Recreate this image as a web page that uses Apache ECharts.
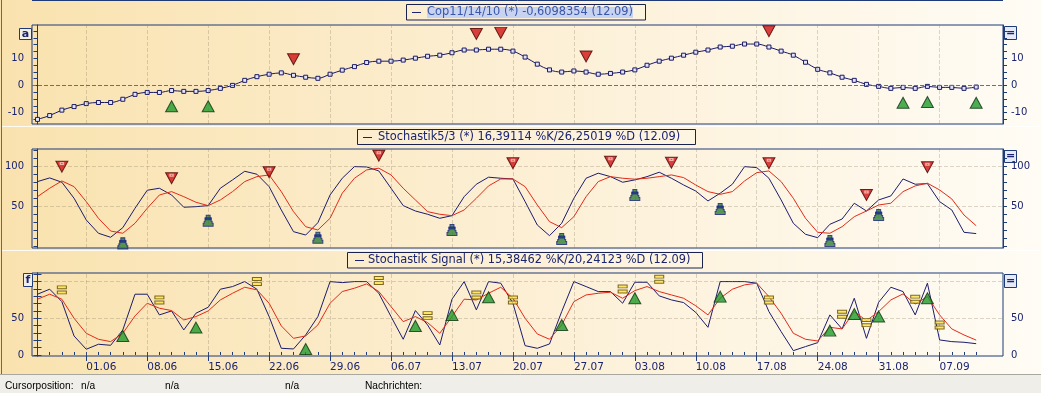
<!DOCTYPE html>
<html><head><meta charset="utf-8">
<script src="https://cdn.jsdelivr.net/npm/echarts@6/dist/echarts.min.js"></script>
<style>html,body{margin:0;padding:0;background:#fff}#c{width:1041px;height:393px}</style>
</head><body><div id="c"></div>
<script>
// ---------- DATA ----------
const dates = ['26.05','27.05','28.05','29.05',
 '01.06','02.06','03.06','04.06','05.06','08.06','09.06','10.06','11.06','12.06',
 '15.06','16.06','17.06','18.06','19.06','22.06','23.06','24.06','25.06','26.06',
 '29.06','30.06','01.07','02.07','03.07','06.07','07.07','08.07','09.07','10.07',
 '13.07','14.07','15.07','16.07','17.07','20.07','21.07','22.07','23.07','24.07',
 '27.07','28.07','29.07','30.07','31.07','03.08','04.08','05.08','06.08','07.08',
 '10.08','11.08','12.08','13.08','14.08','17.08','18.08','19.08','20.08','21.08',
 '24.08','25.08','26.08','27.08','28.08','31.08','01.09','02.09','03.09','04.09',
 '07.09','08.09','09.09','10.09'];
const tickLabels = ['01.06','08.06','15.06','22.06','29.06','06.07','13.07','20.07','27.07','03.08','10.08','17.08','24.08','31.08','07.09'];

const cop = [-12.5,-11.1,-9.1,-7.8,-6.7,-6.3,-6.3,-5.1,-3.3,-2.6,-2.6,-1.9,-2.2,-2.2,-1.9,-1.1,0,1.85,3.2,4.1,4.6,3.7,3.0,2.6,4.1,5.6,
 6.9,8.4,8.9,8.9,9.3,10.0,10.7,11.1,12.0,13.0,13.0,13.3,13.3,12.6,10.4,7.8,5.7,4.9,5.3,4.9,4.1,4.4,4.9,5.7,7.4,8.9,10.0,11.1,12.2,
 13.0,14.1,14.4,15.2,15.2,14.1,12.6,11.1,8.5,5.9,4.6,3.0,1.85,0.37,-0.37,-1.1,-0.74,-1.1,-0.37,-0.74,-0.74,-1.1,-0.61];

const stochK = [81.3,85.9,80.5,60.5,33.4,16.8,11.8,23.8,48,70.5,73,64.6,49.3,50,51.3,73,83.4,94.2,90.5,75,45.9,18.8,14.6,30,64.6,85.5,
 100,99.6,94.6,73,51.3,44.6,40.5,35.5,38.8,62.5,78,86.8,85.5,84.6,56.3,27.1,13.8,29.3,60.5,85.5,91.8,87.5,80.5,83.4,87.5,93,85.5,77.1,69.5,
 57.1,66.8,78,100,98.8,85.5,58.4,29.3,15.5,11.3,28,34.6,54.3,44.6,58.4,63.4,84.6,78,78.8,56.3,45.9,18,16.39];
const stochD = [62.5,73,82.1,75,56.3,35.5,19.6,16.8,29.3,48,64.6,68.8,62.5,55.5,51.3,58.4,68.8,81.3,87.5,89.6,68.8,43.8,25,20.9,35.5,66.8,
 85.5,95.9,98,89.6,73,58.4,43.8,40.5,38.8,45.9,60.5,75.9,84.6,84.6,75,52.1,31.3,23.8,37.5,62.5,81.3,87.5,85.5,84.3,85.5,87.5,89.6,86.3,77,
 68.8,65.4,68.8,82.1,92.5,94.6,81.3,60.5,35.5,18,16.8,25,37.5,44.6,52.1,54.3,68.8,75.9,79.3,70.9,59.6,39.6,26.25];

const sigK = [82.8,89.6,72.7,25.9,7.8,14.6,13.2,34.1,82.8,82.8,54.6,60,34.1,56.9,65,89.6,93.2,100,89.6,52.3,9.1,8.2,27.3,52.3,100,98.6,
 100,100,84.1,52.3,21.4,60.5,40.9,13.6,76,100,61.4,100,97.8,70.5,12.7,9.1,15,59.1,100,93.2,86.4,86.4,70.5,99.1,99.1,80.5,75,71.4,58,
 37.7,100,100,100,97.8,59.1,31.8,5.9,11.4,16.8,54.6,35.5,77.3,22.7,71.8,92.3,86.4,54.6,97.8,20.5,18.2,17.3,15.38];
const sigD = [76,82.8,76,50,29.6,21.4,18.2,29.6,53.2,70.5,63.7,60.5,47.7,52.3,60,75,84.1,92.3,88.7,70.5,39.6,22.7,25.9,40.9,70.5,86.4,
 91,96.8,86.4,65.9,45.4,52.3,44.1,29.6,52.3,76,75,84.1,92.3,77.3,50,28.6,21.4,40.9,72.7,81.8,84.1,85.5,77.3,87.7,93.2,86.4,81.8,77.3,67,
 54.6,77.3,89.6,95.5,97.8,79.5,56.8,29.6,21.4,19.1,37.7,35.5,59.1,46.8,59.1,75,83.2,69.5,79.5,54.6,35.5,27.3,20.24];

// signal markers: [date, y position]
const copSell = [['24.06',9.6],['15.07',18.9],['17.07',19.3],['28.07',10.6],['18.08',19.9]];
const copBuy = [['10.06',-7.7],['15.06',-7.7],['02.09',-6.4],['04.09',-6.1],['10.09',-6.4]];
const stoSell = [['28.05',100],['10.06',85.5],['22.06',93],['03.07',113.7],['20.07',104.2],['30.07',106.2],['06.08',105],['18.08',104.2],['28.08',64.6],['04.09',99.2]];
const stoBuy = [['04.06',4.2],['15.06',32.5],['26.06',11.2],['13.07',20.9],['24.07',9.6],['03.08',64.6],['12.08',47.1],['25.08',7.1],['31.08',39.6]];
const sigNeutral = [['28.05',88.7],['09.06',75],['19.06',100],['03.07',101.4],['09.07',53.6],['15.07',81.8],['20.07',75],['31.07',90],['05.08',103.3],['18.08',75],['26.08',55.5],['28.08',44.1],['03.09',76],['07.09',40.9]];
const sigBuy = [['04.06',25.9],['12.06',37.3],['25.06',8.2],['08.07',39.6],['13.07',54.6],['16.07',78.7],['24.07',40.9],['03.08',77.3],['12.08',79.5],['25.08',33.2],['27.08',55.9],['31.08',52.3],['04.09',77.3]];

const legend1 = 'Cop11/14/10 (*) -0,6098354 (12.09)';
const legend2 = 'Stochastik5/3 (*) 16,39114 %K/26,25019 %D (12.09)';
const legend3 = 'Stochastik Signal (*) 15,38462 %K/20,24123 %D (12.09)';

// ---------- BUILD ----------
const NAVY = '#1e3a78', TXT = '#1a2470';
const idx = d => dates.indexOf(d);
const ser = arr => arr.map((v,i)=>[i,v]);
const pts = arr => arr.map(([d,v])=>[idx(d),v]);
const mondayIdx = tickLabels.map(idx);
const allIdx = dates.map((d,i)=>i);
const XMIN = -0.45, XMAX = 79.2;

function xAx(g, extra){ return Object.assign({type:'value', gridIndex:g, min:XMIN, max:XMAX,
  axisLine:{show:false}, axisTick:{show:false}, axisLabel:{show:false}, splitLine:{show:false}}, extra||{}); }
function yAx(g, pos, min, max, ticks, labels){
  return {type:'value', gridIndex:g, position:pos, min:min, max:max,
    axisLine:{show:true, lineStyle:{color:NAVY}},
    axisTick:{show:true, customValues:ticks, length:4, lineStyle:{color:NAVY}},
    axisLabel:{customValues:labels, margin:8, color:TXT, fontFamily:'DejaVu Sans', fontSize:10},
    splitLine:{show:false}};
}
const range = (a,b,s)=>{const r=[];for(let v=a;v<=b+1e-9;v+=s)r.push(+v.toFixed(2));return r;};

const gridLineStyle = {color:'rgba(130,115,90,0.28)', type:'dashed', width:1};
function gridMark(hvals, extra){
  const data = mondayIdx.map(i=>({xAxis:i}));
  hvals.forEach(v=>data.push({yAxis:v}));
  if(extra) data.push(extra);
  return {silent:true, symbol:['none','none'], label:{show:false}, lineStyle:gridLineStyle, data:data, animation:false};
}

const downTri = 'path://M0,0L12,0L6,11Z';
const tower = 'path://M3,0H7V3H8V6H9V8H10V11H0V8H1V6H2V3H3Z';
const eqSym = 'path://M0,0H10V3.5H0Z M0,6H10V9.5H0Z';
const redStyle = {color:'#d01212', borderColor:'#4a0000', borderWidth:1};
const greenStyle = {color:'#1f9a2a', borderColor:'#0b3310', borderWidth:1};

const option = {
  animation:false,
  backgroundColor:{type:'linear',x:0,y:0,x2:1,y2:0,colorStops:[{offset:0,color:'#F9E2AE'},{offset:0.5,color:'#FCEFD4'},{offset:1,color:'#FFFCF5'}]},
  grid:[
    {left:32, top:25, width:971, height:99, show:true, borderColor:NAVY, borderWidth:1, backgroundColor:'transparent'},
    {left:32, top:149, width:971, height:99, show:true, borderColor:NAVY, borderWidth:1, backgroundColor:'transparent'},
    {left:32, top:273, width:971, height:83, show:true, borderColor:NAVY, borderWidth:1, backgroundColor:'transparent'}
  ],
  xAxis:[
    xAx(0), xAx(1),
    xAx(2, {axisTick:{show:true, customValues:mondayIdx, length:6, lineStyle:{color:NAVY}},
            axisLabel:{show:true, customValues:mondayIdx, formatter:v=>dates[Math.round(v)], align:'left', margin:6,
                       color:TXT, fontFamily:'DejaVu Sans', fontSize:10.5}}),
    xAx(2, {axisTick:{show:true, customValues:allIdx, length:3, lineStyle:{color:NAVY}}})
  ],
  yAxis:[
    yAx(0,'left',-14.2,22.2,range(-12.5,20,2.5),[-10,0,10]),
    yAx(0,'right',-14.2,22.2,range(-12.5,20,2.5),[-10,0,10]),
    yAx(1,'left',-1.6,122,range(0,120,10),[50,100]),
    yAx(1,'right',-1.6,122,range(0,120,10),[50,100]),
    yAx(2,'left',-1.4,111.7,range(0,110,10),[0,50]),
    yAx(2,'right',-1.4,111.7,range(0,110,10),[0,50])
  ],
  series:[
    {type:'line', xAxisIndex:0, yAxisIndex:0, data:ser(cop), smooth:0.35, showAllSymbol:true,
     symbol:'rect', symbolSize:4, lineStyle:{color:'#1a1a66', width:1},
     itemStyle:{color:'#e4e4f8', borderColor:'#1a1a66', borderWidth:1},
     markLine:gridMark([], {yAxis:0, lineStyle:{color:'#8a6a48', type:'dashed', width:1}})},
    {type:'scatter', xAxisIndex:0, yAxisIndex:0, data:pts(copSell), symbol:downTri, symbolSize:[12,11], itemStyle:redStyle, z:5},
    {type:'scatter', xAxisIndex:0, yAxisIndex:0, data:pts(copBuy), symbol:'triangle', symbolSize:[12,11], itemStyle:greenStyle, z:5},

    {type:'line', xAxisIndex:1, yAxisIndex:2, data:ser(stochK), symbol:'none', lineStyle:{color:'#1c1c6e', width:1},
     markLine:gridMark([50,100])},
    {type:'line', xAxisIndex:1, yAxisIndex:2, data:ser(stochD), symbol:'none', lineStyle:{color:'#e42a18', width:1}},
    {type:'scatter', xAxisIndex:1, yAxisIndex:2, data:pts(stoSell), symbol:downTri, symbolSize:[12,11], itemStyle:redStyle, z:5},
    {type:'scatter', xAxisIndex:1, yAxisIndex:2, data:pts(stoSell), symbol:'rect', symbolSize:[3,2], symbolOffset:[0,-3],
     itemStyle:{color:'rgba(255,255,255,0.1)', borderColor:'rgba(255,235,225,0.8)', borderWidth:1}, z:6},
    {type:'scatter', xAxisIndex:1, yAxisIndex:2, data:pts(stoBuy), symbol:tower, symbolSize:[10,11],
     itemStyle:{color:'#2e7d32', borderColor:'#1a237e', borderWidth:1}, z:5},
    {type:'scatter', xAxisIndex:1, yAxisIndex:2, data:pts(stoBuy), symbol:'rect', symbolSize:[7,3], symbolOffset:[0,-2],
     itemStyle:{color:'#1a2a8a'}, z:6},

    {type:'line', xAxisIndex:2, yAxisIndex:4, data:ser(sigK), symbol:'none', lineStyle:{color:'#1c1c6e', width:1},
     markLine:gridMark([50,100])},
    {type:'line', xAxisIndex:2, yAxisIndex:4, data:ser(sigD), symbol:'none', lineStyle:{color:'#e42a18', width:1}},
    {type:'scatter', xAxisIndex:2, yAxisIndex:4, data:pts(sigNeutral), symbol:eqSym, symbolSize:[9,8],
     itemStyle:{color:'#ffe24a', borderColor:'#5c4a00', borderWidth:1}, z:5},
    {type:'scatter', xAxisIndex:2, yAxisIndex:4, data:pts(sigBuy), symbol:'triangle', symbolSize:[12,11], itemStyle:greenStyle, z:5}
  ],
  graphic:[
    {type:'line', shape:{x1:32,y1:0.5,x2:1003,y2:0.5}, style:{stroke:NAVY, lineWidth:1}},
    {type:'line', shape:{x1:1.5,y1:0,x2:1.5,y2:374}, style:{stroke:'#4f6aa6', lineWidth:1}},
    {type:'line', shape:{x1:2,y1:126.5,x2:1041,y2:126.5}, style:{stroke:'rgba(255,255,255,0.85)', lineWidth:1}},
    {type:'line', shape:{x1:2,y1:250.5,x2:1041,y2:250.5}, style:{stroke:'rgba(255,255,255,0.85)', lineWidth:1}},
    {type:'rect', shape:{x:406.5,y:4.5,width:239,height:15.5}, style:{fill:'rgba(255,255,255,0.1)', stroke:'#1a2250', lineWidth:1}},
    {type:'line', shape:{x1:412,y1:12.5,x2:421,y2:12.5}, style:{stroke:'#1a2470', lineWidth:1}},
    {type:'text', x:427, y:12.5, style:{text:legend1, font:'11.4px "DejaVu Sans"', fill:'#3a56a8', verticalAlign:'middle', backgroundColor:'#c7d3f1'}},
    {type:'rect', shape:{x:357.5,y:129.5,width:338,height:15}, style:{fill:'rgba(255,255,255,0.1)', stroke:'#1a2250', lineWidth:1}},
    {type:'line', shape:{x1:363,y1:137.5,x2:372,y2:137.5}, style:{stroke:'#1a2470', lineWidth:1}},
    {type:'text', x:378, y:137.5, style:{text:legend2, font:'11.4px "DejaVu Sans"', fill:'#1a2470', verticalAlign:'middle'}},
    {type:'rect', shape:{x:347.5,y:252.5,width:355,height:15.5}, style:{fill:'rgba(255,255,255,0.1)', stroke:'#1a2250', lineWidth:1}},
    {type:'line', shape:{x1:355,y1:260.5,x2:364,y2:260.5}, style:{stroke:'#1a2470', lineWidth:1}},
    {type:'text', x:368, y:260.5, style:{text:legend3, font:'11.4px "DejaVu Sans"', fill:'#1a2470', verticalAlign:'middle'}},
    {type:'rect', shape:{x:19.5,y:28.5,width:12,height:11}, style:{fill:'#f3efe6', stroke:NAVY, lineWidth:1}},
    {type:'text', x:25.5, y:34, style:{text:'a', font:'bold 11px "DejaVu Sans"', fill:TXT, align:'center', verticalAlign:'middle'}},
    {type:'rect', shape:{x:23.5,y:273.5,width:9,height:13}, style:{fill:'#f3efe6', stroke:NAVY, lineWidth:1}},
    {type:'text', x:28, y:280, style:{text:'f', font:'bold 11px "DejaVu Sans"', fill:TXT, align:'center', verticalAlign:'middle'}},
    {type:'rect', shape:{x:1004.5,y:26.5,width:12,height:13}, style:{fill:'#e6eaf6', stroke:NAVY, lineWidth:1}},
    {type:'text', x:1010.5, y:33, style:{text:'=', font:'bold 11px "DejaVu Sans"', fill:TXT, align:'center', verticalAlign:'middle'}},
    {type:'rect', shape:{x:1004.5,y:150.5,width:12,height:12}, style:{fill:'#e6eaf6', stroke:NAVY, lineWidth:1}},
    {type:'text', x:1010.5, y:156.5, style:{text:'=', font:'bold 11px "DejaVu Sans"', fill:TXT, align:'center', verticalAlign:'middle'}},
    {type:'rect', shape:{x:1004.5,y:274.5,width:12,height:13}, style:{fill:'#e6eaf6', stroke:NAVY, lineWidth:1}},
    {type:'text', x:1010.5, y:281, style:{text:'=', font:'bold 11px "DejaVu Sans"', fill:TXT, align:'center', verticalAlign:'middle'}},
    {type:'rect', shape:{x:0,y:374,width:1041,height:19}, style:{fill:'#EFEEE9'}},
    {type:'line', shape:{x1:0,y1:374.5,x2:1041,y2:374.5}, style:{stroke:'#a8a8a0', lineWidth:1}},
    {type:'text', x:5, y:386, style:{text:'Cursorposition:', font:'10.2px "Liberation Sans"', fill:'#000', verticalAlign:'middle'}},
    {type:'text', x:81, y:386, style:{text:'n/a', font:'10.2px "Liberation Sans"', fill:'#000', verticalAlign:'middle'}},
    {type:'text', x:165, y:386, style:{text:'n/a', font:'10.2px "Liberation Sans"', fill:'#000', verticalAlign:'middle'}},
    {type:'text', x:285, y:386, style:{text:'n/a', font:'10.2px "Liberation Sans"', fill:'#000', verticalAlign:'middle'}},
    {type:'text', x:365, y:386, style:{text:'Nachrichten:', font:'10.2px "Liberation Sans"', fill:'#000', verticalAlign:'middle'}}
  ]
};
const chart = echarts.init(document.getElementById('c'), null, {renderer:'canvas'});
chart.setOption(option);
</script></body></html>
